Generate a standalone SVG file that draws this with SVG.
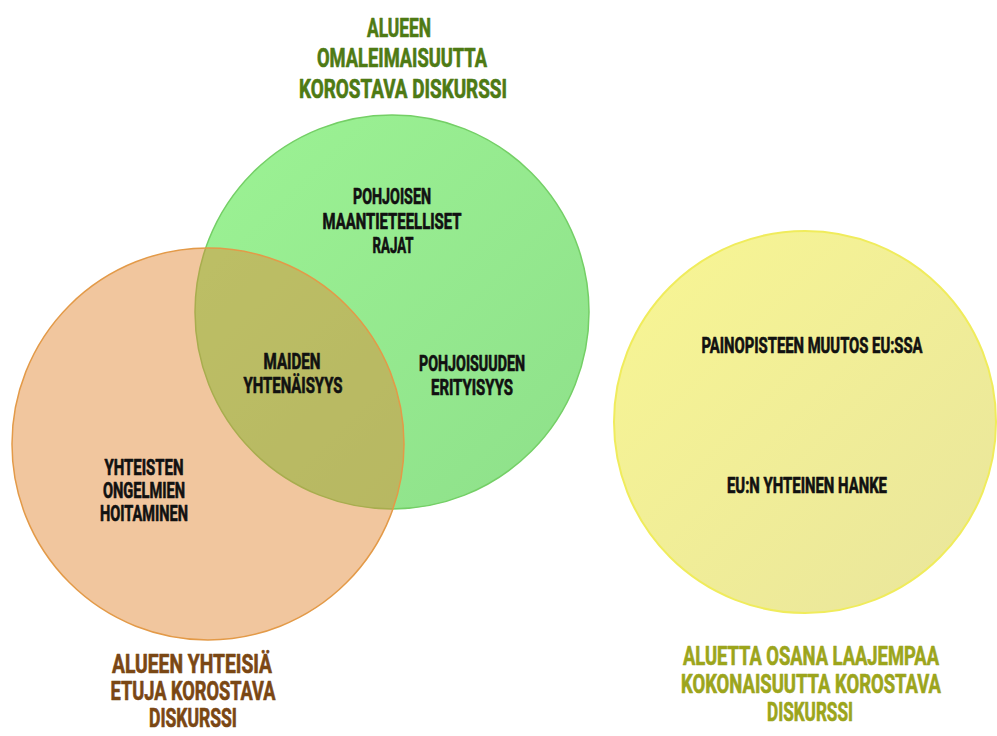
<svg xmlns="http://www.w3.org/2000/svg" width="997" height="736" viewBox="0 0 997 736">
<defs>
<linearGradient id="gG" x1="0" y1="0" x2="1" y2="1"><stop offset="0" stop-color="#9CF394"/><stop offset="1" stop-color="#8EE08A"/></linearGradient>
<linearGradient id="gY" x1="0" y1="0" x2="1" y2="1"><stop offset="0" stop-color="#F8F693"/><stop offset="1" stop-color="#E9E59C"/></linearGradient>
<style>
text{font-family:Roboto,"Liberation Sans",sans-serif;font-weight:700;text-anchor:middle;stroke-width:0.7px;stroke-linejoin:round}
.in{font-size:22px;fill:#111111;stroke:#111111}
.tt{font-size:26px}
.tg{fill:#4E7A14;stroke:#4E7A14}
.tb{fill:#7A4714;stroke:#7A4714}
.ty{fill:#9CA51C;stroke:#9CA51C}
</style>
</defs>
<rect width="997" height="736" fill="#ffffff"/>
<g id="circle-green">
<circle cx="392" cy="312" r="197" fill="url(#gG)" stroke="#74CF66" stroke-width="1.5"/>
</g>
<g id="circle-orange">
<circle cx="208" cy="444" r="196" fill="#E28835" fill-opacity="0.48" stroke="#E39A48" stroke-width="1.5"/>
</g>
<g id="circle-yellow">
<circle cx="805" cy="422" r="191" fill="url(#gY)" stroke="#F0EC5C" stroke-width="2"/>
</g>
<g id="label-green" class="tt tg">
<text x="399" y="37" textLength="64" lengthAdjust="spacingAndGlyphs">ALUEEN</text>
<text x="402" y="67" textLength="170" lengthAdjust="spacingAndGlyphs">OMALEIMAISUUTTA</text>
<text x="403" y="98" textLength="208" lengthAdjust="spacingAndGlyphs">KOROSTAVA DISKURSSI</text>
</g>
<g id="label-orange" class="tt tb">
<text x="192" y="673" textLength="160" lengthAdjust="spacingAndGlyphs">ALUEEN YHTEISIÄ</text>
<text x="193" y="700" textLength="165" lengthAdjust="spacingAndGlyphs">ETUJA KOROSTAVA</text>
<text x="193" y="727" textLength="88" lengthAdjust="spacingAndGlyphs">DISKURSSI</text>
</g>
<g id="label-yellow" class="tt ty">
<text x="811" y="665" textLength="256" lengthAdjust="spacingAndGlyphs">ALUETTA OSANA LAAJEMPAA</text>
<text x="811" y="693" textLength="260" lengthAdjust="spacingAndGlyphs">KOKONAISUUTTA KOROSTAVA</text>
<text x="810" y="721" textLength="86" lengthAdjust="spacingAndGlyphs">DISKURSSI</text>
</g>
<g id="node-pohjoisen" class="in">
<text x="392" y="204" textLength="78" lengthAdjust="spacingAndGlyphs">POHJOISEN</text>
<text x="392" y="229" textLength="139" lengthAdjust="spacingAndGlyphs">MAANTIETEELLISET</text>
<text x="393" y="253" textLength="41" lengthAdjust="spacingAndGlyphs">RAJAT</text>
</g>
<g id="node-maiden" class="in">
<text x="292" y="369" textLength="57" lengthAdjust="spacingAndGlyphs">MAIDEN</text>
<text x="293" y="393" textLength="99" lengthAdjust="spacingAndGlyphs">YHTENÄISYYS</text>
</g>
<g id="node-pohjoisuuden" class="in">
<text x="472" y="371" textLength="106" lengthAdjust="spacingAndGlyphs">POHJOISUUDEN</text>
<text x="472" y="395" textLength="82" lengthAdjust="spacingAndGlyphs">ERITYISYYS</text>
</g>
<g id="node-yhteisten" class="in">
<text x="144" y="475" textLength="79" lengthAdjust="spacingAndGlyphs">YHTEISTEN</text>
<text x="144" y="498" textLength="82" lengthAdjust="spacingAndGlyphs">ONGELMIEN</text>
<text x="144" y="521" textLength="88" lengthAdjust="spacingAndGlyphs">HOITAMINEN</text>
</g>
<g id="node-painopiste" class="in">
<text x="812" y="353" textLength="221" lengthAdjust="spacingAndGlyphs">PAINOPISTEEN MUUTOS EU:SSA</text>
</g>
<g id="node-hanke" class="in">
<text x="807" y="493" textLength="160" lengthAdjust="spacingAndGlyphs">EU:N YHTEINEN HANKE</text>
</g>
<g id="connectors"></g>
</svg>
